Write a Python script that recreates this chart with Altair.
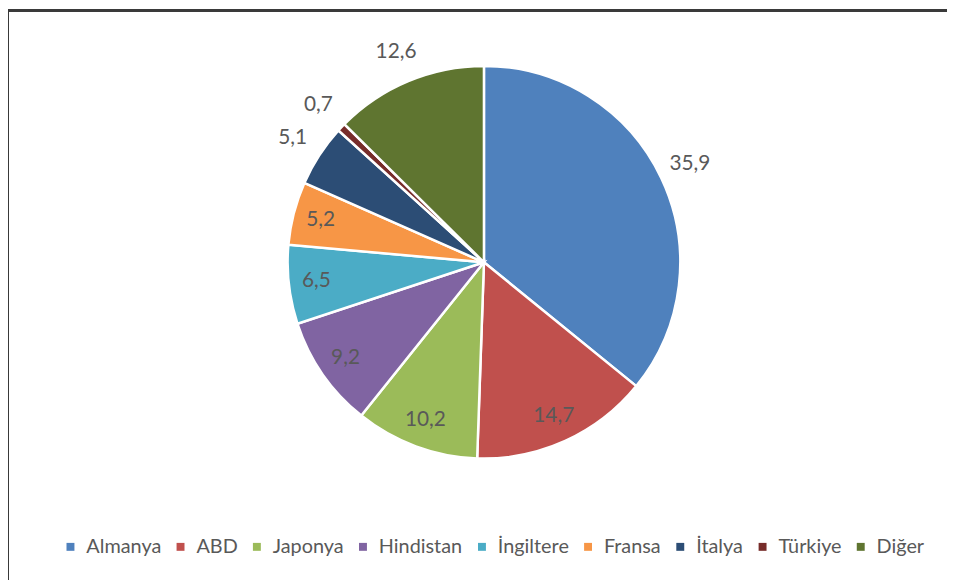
import altair as alt
import pandas as pd

countries = ["Almanya", "ABD", "Japonya", "Hindistan", "İngiltere", "Fransa", "İtalya", "Türkiye", "Diğer"]
shares = [35.9, 14.7, 10.2, 9.2, 6.5, 5.2, 5.1, 0.7, 12.6]
colors = ["#4F81BD", "#C0504D", "#9BBB59", "#8064A2", "#4BACC6", "#F79646", "#2C4D75", "#772C2A", "#5F7530"]
outside_labels = ["Almanya", "İtalya", "Türkiye", "Diğer"]

df = pd.DataFrame({"country": countries, "share": shares, "idx": list(range(len(countries)))})

W, H = 947, 574
CX, CY = 480, 254
R_OUT, R_LAB_IN, R_LAB_OUT = 198, 170, 230
FONT = "Lato"
TXT = "#595959"

arcs = alt.Chart(df).mark_arc(outerRadius=R_OUT, stroke="white", strokeWidth=2.5).encode(
    theta=alt.Theta("share:Q", stack=True),
    order=alt.Order("idx:Q"),
    x=alt.value(CX),
    y=alt.value(CY),
    color=alt.Color(
        "country:N",
        scale=alt.Scale(domain=countries, range=colors),
        sort=countries,
        legend=alt.Legend(
            title=None,
            orient="none",
            legendX=53,
            legendY=531,
            direction="horizontal",
            symbolType="square",
            symbolSize=64,
            symbolStrokeWidth=0,
            labelFont=FONT,
            labelFontSize=20,
            labelColor=TXT,
            labelOffset=6,
            columnPadding=9,
        ),
    ),
)

outside_expr = "indexof(" + str(outside_labels).replace("'", '"') + ", datum.country) >= 0"

texts = alt.Chart(df).transform_window(
    cum="sum(share)", sort=[alt.SortField("idx", order="ascending")]
).transform_joinaggregate(
    total="sum(share)"
).transform_calculate(
    ang="2 * PI * (datum.cum - datum.share / 2) / datum.total",
    r=outside_expr + f" ? {R_LAB_OUT} : {R_LAB_IN}",
).transform_calculate(
    lx=f"{CX} + datum.r * sin(datum.ang)",
    ly=f"{CY} - datum.r * cos(datum.ang)",
    label="replace(format(datum.share, '.1f'), '.', ',')",
).mark_text(font=FONT, fontSize=21, color=TXT).encode(
    x=alt.X("lx:Q", scale=None, axis=None),
    y=alt.Y("ly:Q", scale=None, axis=None),
    text="label:N",
)

border_left = alt.Chart(df).mark_rule(color="#3a3a3a", strokeWidth=2).encode(
    x=alt.value(0), y=alt.value(0), y2=alt.value(H)
)
border_top = alt.Chart(df).mark_rule(color="#3a3a3a", strokeWidth=2).encode(
    y=alt.value(0), x=alt.value(0), x2=alt.value(W)
)

chart = alt.layer(arcs, texts, border_left, border_top).properties(
    width=W, height=H, padding=0, autosize=alt.AutoSizeParams(type="none")
).configure_view(stroke=None)

chart.save("out.html", embed_options={"renderer": "svg", "actions": False})
